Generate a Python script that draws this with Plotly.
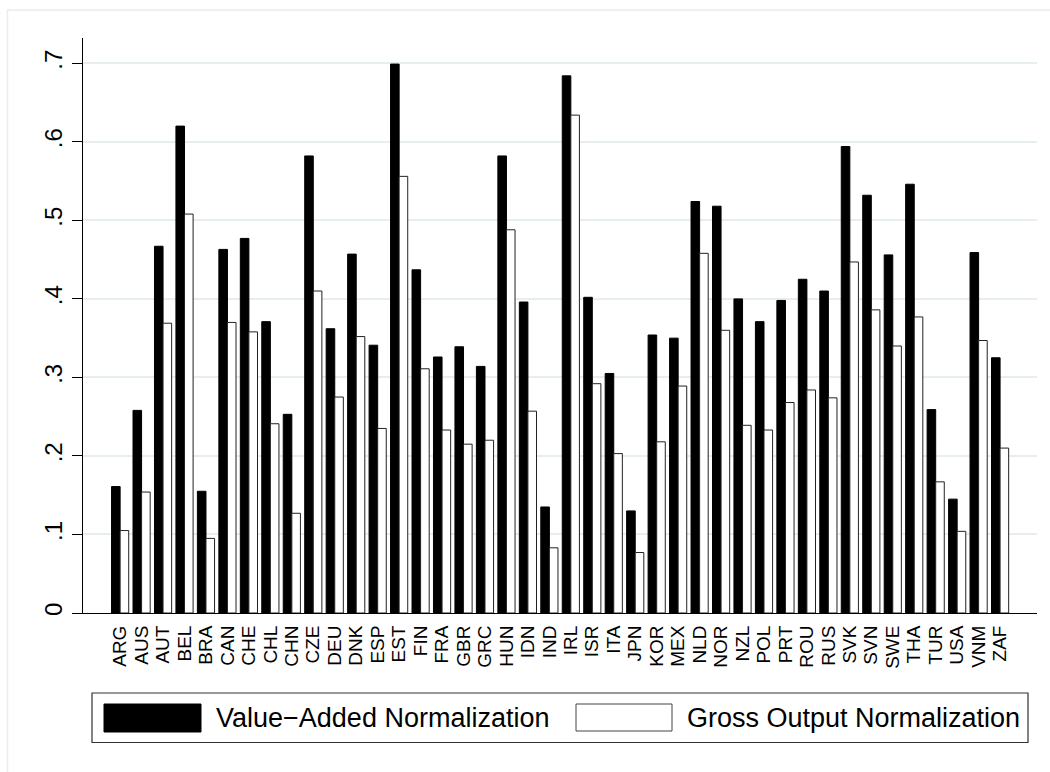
import plotly.graph_objects as go

# Country codes (x categories)
countries = ["ARG", "AUS", "AUT", "BEL", "BRA", "CAN", "CHE", "CHL", "CHN", "CZE",
             "DEU", "DNK", "ESP", "EST", "FIN", "FRA", "GBR", "GRC", "HUN", "IDN",
             "IND", "IRL", "ISR", "ITA", "JPN", "KOR", "MEX", "NLD", "NOR", "NZL",
             "POL", "PRT", "ROU", "RUS", "SVK", "SVN", "SWE", "THA", "TUR", "USA",
             "VNM", "ZAF"]

# Value-added normalization
value_added = [0.161, 0.258, 0.467, 0.620, 0.155, 0.463, 0.477, 0.371, 0.253, 0.582,
               0.362, 0.457, 0.341, 0.699, 0.437, 0.326, 0.339, 0.314, 0.582, 0.396,
               0.135, 0.684, 0.402, 0.305, 0.130, 0.354, 0.350, 0.524, 0.518, 0.400,
               0.371, 0.398, 0.425, 0.410, 0.594, 0.532, 0.456, 0.546, 0.259, 0.145,
               0.459, 0.325]

# Gross output normalization
gross_output = [0.105, 0.154, 0.369, 0.508, 0.095, 0.370, 0.358, 0.241, 0.127, 0.410,
                0.275, 0.352, 0.235, 0.556, 0.311, 0.233, 0.215, 0.220, 0.488, 0.257,
                0.083, 0.634, 0.292, 0.203, 0.077, 0.218, 0.289, 0.458, 0.360, 0.239,
                0.233, 0.268, 0.284, 0.274, 0.447, 0.386, 0.340, 0.377, 0.167, 0.104,
                0.347, 0.210]

y_ticks = [0, 0.1, 0.2, 0.3, 0.4, 0.5, 0.6, 0.7]
y_tick_text = ["0", ".1", ".2", ".3", ".4", ".5", ".6", ".7"]

legend_labels = ["Value\u2212Added Normalization", "Gross Output Normalization"]

W, H = 1050, 772
L, R, T, B = 83, 13, 38, 159
PW, PH = W - L - R, H - T - B

FONT = "Liberation Sans, Arial, Helvetica, sans-serif"
GRID = "#e6eeee"


def px(x):
    return (x - L) / PW


def py(y):
    return (H - B - y) / PH


fig = go.Figure()
fig.add_trace(go.Bar(x=countries, y=value_added, name=legend_labels[0],
                     marker=dict(color="black", line=dict(color="black", width=1))))
fig.add_trace(go.Bar(x=countries, y=gross_output, name=legend_labels[1],
                     marker=dict(color="white", line=dict(color="#222222", width=1))))

shapes = []
# outer graph-region outline
shapes.append(dict(type="rect", xref="paper", yref="paper",
                   x0=px(7.5), x1=px(1060), y0=py(790), y1=py(10),
                   line=dict(color=GRID, width=1.5), fillcolor="rgba(0,0,0,0)",
                   layer="below"))
# legend box and keys
shapes.append(dict(type="rect", xref="paper", yref="paper",
                   x0=px(92), x1=px(1028), y0=py(742.5), y1=py(693),
                   line=dict(color="#333333", width=1.2), fillcolor="white"))
shapes.append(dict(type="rect", xref="paper", yref="paper",
                   x0=px(104), x1=px(201), y0=py(732), y1=py(704),
                   line=dict(color="black", width=1), fillcolor="black"))
shapes.append(dict(type="rect", xref="paper", yref="paper",
                   x0=px(576), x1=px(672), y0=py(731), y1=py(704),
                   line=dict(color="#444444", width=1), fillcolor="white"))

annotations = [
    dict(x=px(214), y=py(718), xref="paper", yref="paper", text=legend_labels[0],
         showarrow=False, xanchor="left", yanchor="middle",
         font=dict(family=FONT, size=27, color="black")),
    dict(x=px(685), y=py(718), xref="paper", yref="paper", text=legend_labels[1],
         showarrow=False, xanchor="left", yanchor="middle",
         font=dict(family=FONT, size=27, color="black")),
]

fig.update_layout(
    width=W, height=H,
    margin=dict(l=L, r=R, t=T, b=B, autoexpand=False),
    paper_bgcolor="white", plot_bgcolor="white",
    barmode="group", bargap=0.2, bargroupgap=0,
    showlegend=False,
    shapes=shapes, annotations=annotations,
    font=dict(family=FONT, color="black"),
    xaxis=dict(type="category", range=[-1.73, 42.72],
               tickmode="array", tickvals=countries, ticktext=countries,
               showline=True, linecolor="black", linewidth=1,
               ticks="", showgrid=False, tickangle=-90, ticklabelstandoff=4,
               tickfont=dict(family=FONT, size=19, color="black"),
               zeroline=False),
    yaxis=dict(range=[0, 0.7322], tickvals=y_ticks, ticktext=y_tick_text,
               showline=True, linecolor="black", linewidth=1,
               ticks="outside", ticklen=10, tickcolor="black", tickwidth=1,
               tickangle=-90,
               tickfont=dict(family=FONT, size=24, color="black"),
               showgrid=True, gridcolor=GRID, gridwidth=1.5,
               zeroline=False),
)

fig.write_html("out.html")
